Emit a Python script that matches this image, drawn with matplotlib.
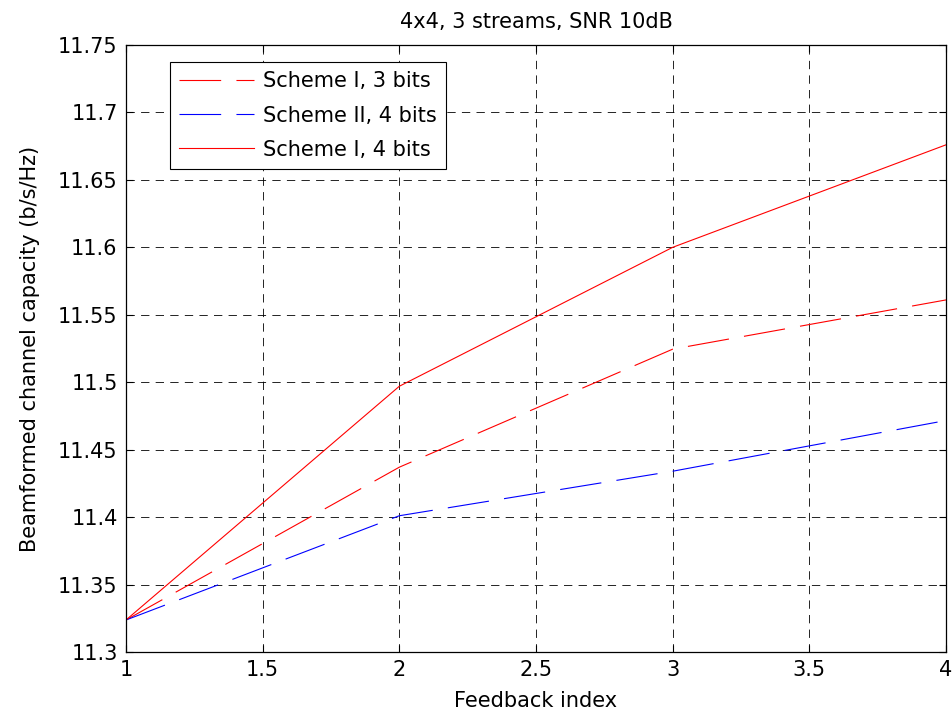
#Recreate the beamformed channel capacity plot

import matplotlib
matplotlib.use("Agg")
import matplotlib.pyplot as plt

#Data
feedback_index = [1, 2, 3, 4]
scheme1_3bits = [11.3237, 11.437, 11.5245, 11.561]
scheme2_4bits = [11.3237, 11.401, 11.434, 11.4716]
scheme1_4bits = [11.3237, 11.497, 11.600, 11.676]

x_ticks = [1, 1.5, 2, 2.5, 3, 3.5, 4]
y_ticks = [11.3, 11.35, 11.4, 11.45, 11.5, 11.55, 11.6, 11.65, 11.7, 11.75]


def main():

    plt.rcParams['font.family'] = ['DejaVu Sans']
    plt.rcParams['lines.scale_dashes'] = False

    fig = plt.figure(figsize=(9.53, 7.13), dpi=100)
    ax = fig.add_axes([0.1322, 0.0856, 0.8605, 0.8513])

    #Plot lines
    ax.plot(feedback_index, scheme1_3bits, color='red', lw=0.8,
            dashes=(30, 11), label='Scheme I, 3 bits')
    ax.plot(feedback_index, scheme2_4bits, color='blue', lw=0.8,
            dashes=(30, 11), label='Scheme II, 4 bits')
    ax.plot(feedback_index, scheme1_4bits, color='red', lw=0.8,
            label='Scheme I, 4 bits')

    #Axes styling
    ax.set_xlim(1, 4)
    ax.set_ylim(11.3, 11.75)
    ax.set_xticks(x_ticks)
    ax.set_xticklabels(['1', '1.5', '2', '2.5', '3', '3.5', '4'])
    ax.set_yticks(y_ticks)
    ax.set_yticklabels(['11.3', '11.35', '11.4', '11.45', '11.5', '11.55',
                        '11.6', '11.65', '11.7', '11.75'])
    ax.tick_params(direction='in', labelsize=15, length=5, top=True, right=True)
    ax.tick_params(axis='x', pad=6)
    ax.tick_params(axis='y', pad=6)
    ax.grid(True, color='black', linestyle=(0, (6, 4.5)), linewidth=0.6)
    for spine in ax.spines.values():
        spine.set_linewidth(0.9)

    ax.set_title('4x4, 3 streams, SNR 10dB', fontsize=15, pad=12)
    ax.set_xlabel('Feedback index', fontsize=15, labelpad=8)
    ax.set_ylabel('Beamformed channel capacity (b/s/Hz)', fontsize=15, labelpad=13)

    leg = ax.legend(loc='upper left', bbox_to_anchor=(0.0537, 0.972), fontsize=15,
                    borderaxespad=0, handlelength=3.6, handletextpad=0.4,
                    fancybox=False, edgecolor='black', framealpha=1,
                    borderpad=0.45, labelspacing=0.68)
    leg.get_frame().set_linewidth(0.8)

    fig.savefig('out.png', dpi=100)


if __name__ == "__main__":
    main()
